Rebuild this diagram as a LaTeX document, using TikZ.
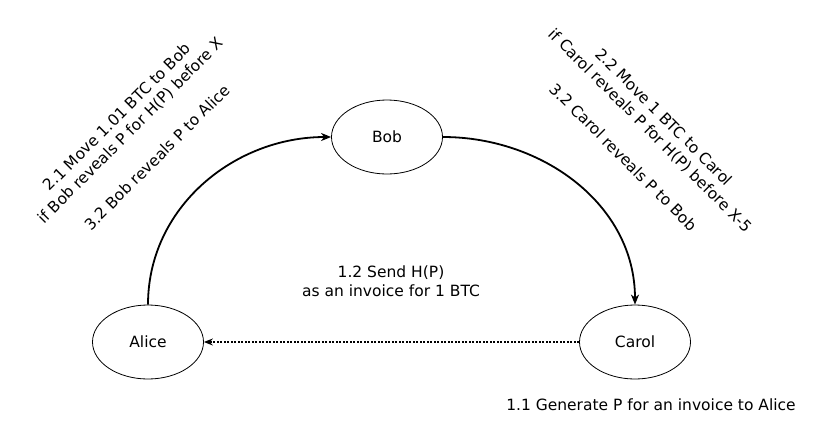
\documentclass[tikz,border=0pt]{standalone}
\usepackage{fontspec}
\setmainfont{DejaVu Sans}
\usetikzlibrary{arrows.meta,shapes.geometric}

\begin{document}
\begin{tikzpicture}[x=1pt, y=-1pt,
    party/.style={draw, ellipse, line width=0.8pt, minimum width=111pt,
                  minimum height=74pt, inner sep=0pt,
                  font=\fontsize{15.5}{18}\selectfont},
    arr/.style={-{Stealth[length=10pt, width=8pt, inset=3pt]}, line width=1.8pt},
    msg/.style={-{Stealth[length=9pt, width=7pt, inset=3pt]}, line width=2.2pt,
                dash pattern=on 2pt off 1.5pt},
    note/.style={font=\fontsize{15.5}{19}\selectfont, align=center}
  ]
    \useasboundingbox (0,0) rectangle (831,429);

    \node[party] (alice) at (148,342) {Alice};
    \node[party] (bob)   at (387,137) {Bob};
    \node[party] (carol) at (635,342) {Carol};

    \draw[arr] (alice.north) to[out=90, in=180] (bob.west);
    \draw[arr] (bob.east) to[out=0, in=90] (carol.north);
    \draw[msg] (carol.west) -- (alice.east);

    % Labels
    \node[note, rotate=45] (lock1) at (137,137)
      {2.1 Move 1.01 BTC to Bob\\if Bob reveals P for H(P) before X\\ \\3.2 Bob reveals P to Alice};
    \node[note, rotate=-45] (lock2) at (644,137)
      {2.2 Move 1 BTC to Carol\\if Carol reveals P for H(P) before X-5\\ \\3.2 Carol reveals P to Bob};
    \node[note] (invoice) at (391,281) {1.2 Send H(P)\\as an invoice for 1 BTC};
    \node[note] (secret) at (651,405) {1.1 Generate P for an invoice to Alice};
  \end{tikzpicture}
\end{document}
